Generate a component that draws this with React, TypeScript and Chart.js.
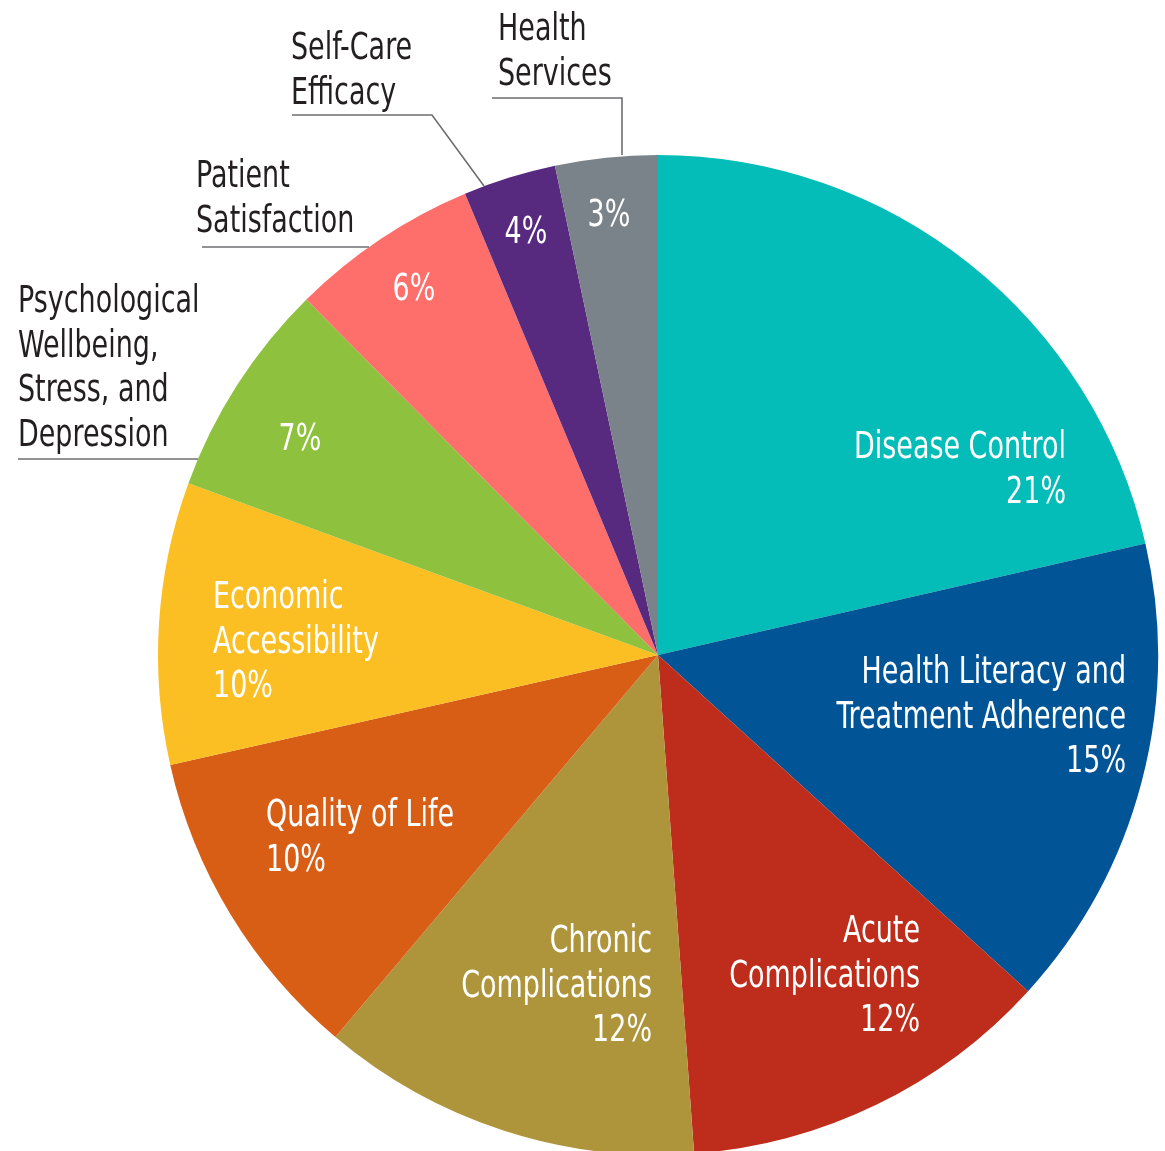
import React, { useEffect, useRef } from "react";
import { Chart, registerables } from "chart.js";

Chart.register(...registerables);

const categories = [
  "Disease Control",
  "Health Literacy and Treatment Adherence",
  "Acute Complications",
  "Chronic Complications",
  "Quality of Life",
  "Economic Accessibility",
  "Psychological Wellbeing, Stress, and Depression",
  "Patient Satisfaction",
  "Self-Care Efficacy",
  "Health Services",
];
// slice sizes as drawn in the picture (percent)
const sliceValues = [21.4, 15.3, 12.1, 12.3, 10.3, 9.1, 7.0, 6.1, 3.0, 3.3];
// printed percentages
const percentLabels = ["21%", "15%", "12%", "12%", "10%", "10%", "7%", "6%", "4%", "3%"];
const sliceColors = [
  "#05BDB8", "#015496", "#BE2D1B", "#AE953C", "#D95E15",
  "#FBBF24", "#8DC13E", "#FE6E6A", "#572A7F", "#798389",
];

// label layout: inside / outside text, anchor in units of radius from centre
type LabelSpec = {
  lines: string[];
  x: number;
  y: number;
  align: CanvasTextAlign;
  color: string;
  leader?: number[][];
};
const labelLayout: LabelSpec[] = [
  { lines: ["Disease Control", percentLabels[0]], x: 0.816, y: -0.394, align: "right", color: "#fff" },
  { lines: ["Health Literacy and", "Treatment Adherence", percentLabels[1]], x: 0.936, y: 0.056, align: "right", color: "#fff" },
  { lines: ["Acute", "Complications", percentLabels[2]], x: 0.524, y: 0.574, align: "right", color: "#fff" },
  { lines: ["Chronic", "Complications", percentLabels[3]], x: -0.012, y: 0.594, align: "right", color: "#fff" },
  { lines: ["Quality of Life", percentLabels[4]], x: -0.784, y: 0.342, align: "left", color: "#fff" },
  { lines: ["Economic", "Accessibility", percentLabels[5]], x: -0.89, y: -0.094, align: "left", color: "#fff" },
  { lines: [percentLabels[6]], x: -0.716, y: -0.41, align: "center", color: "#fff" },
  { lines: [percentLabels[7]], x: -0.488, y: -0.71, align: "center", color: "#fff" },
  { lines: [percentLabels[8]], x: -0.264, y: -0.824, align: "center", color: "#fff" },
  { lines: [percentLabels[9]], x: -0.098, y: -0.858, align: "center", color: "#fff" },
  {
    lines: ["Psychological", "Wellbeing,", "Stress, and", "Depression"], x: -1.28, y: -0.686, align: "left", color: "#231F20",
    leader: [[-1.28, -0.392], [-0.92, -0.392]],
  },
  {
    lines: ["Patient", "Satisfaction"], x: -0.924, y: -0.936, align: "left", color: "#231F20",
    leader: [[-0.912, -0.816], [-0.578, -0.816]],
  },
  {
    lines: ["Self-Care", "Efficacy"], x: -0.734, y: -1.192, align: "left", color: "#231F20",
    leader: [[-0.732, -1.08], [-0.452, -1.08], [-0.348, -0.938]],
  },
  {
    lines: ["Health", "Services"], x: -0.32, y: -1.23, align: "left", color: "#231F20",
    leader: [[-0.332, -1.114], [-0.072, -1.114], [-0.072, -1.0]],
  },
];

const FONT = '37px "Liberation Sans Narrow", "Arial Narrow", "DejaVu Sans Condensed", sans-serif';
const X_SCALE = 0.81;
const LINE_H = 44.5;

const labelPlugin = {
  id: "sliceLabels",
  afterDatasetsDraw(chart: any) {
    const meta = chart.getDatasetMeta(0);
    const arc = meta.data[0];
    if (!arc) return;
    const cx = arc.x;
    const cy = arc.y;
    const r = arc.outerRadius;
    const ctx = chart.ctx as CanvasRenderingContext2D;
    ctx.save();
    for (const spec of labelLayout) {
      if (spec.leader) {
        ctx.beginPath();
        ctx.strokeStyle = "#6D6E71";
        ctx.lineWidth = 1.6;
        spec.leader.forEach((p, i) => {
          const px = cx + p[0] * r;
          const py = cy + p[1] * r;
          if (i === 0) ctx.moveTo(px, py);
          else ctx.lineTo(px, py);
        });
        ctx.stroke();
      }
      spec.lines.forEach((line, i) => {
        const ax = cx + spec.x * r;
        const ay = cy + spec.y * r + i * LINE_H;
        ctx.save();
        ctx.translate(ax, ay);
        ctx.scale(X_SCALE, 1);
        ctx.font = FONT;
        ctx.fillStyle = spec.color;
        ctx.textAlign = spec.align;
        ctx.textBaseline = "alphabetic";
        ctx.fillText(line, 0, 0);
        ctx.restore();
      });
    }
    ctx.restore();
  },
};

export default function App() {
  const ref = useRef<HTMLCanvasElement | null>(null);
  useEffect(() => {
    if (!ref.current) return;
    const chart = new Chart(ref.current, {
      type: "pie",
      data: {
        labels: categories,
        datasets: [
          {
            data: sliceValues,
            backgroundColor: sliceColors,
            borderWidth: 0,
          },
        ],
      },
      options: {
        responsive: false,
        animation: false,
        devicePixelRatio: 1,
        layout: { padding: { left: 158, right: 7, top: 155, bottom: 5 } },
        plugins: {
          legend: { display: false },
          tooltip: { enabled: false },
          title: { display: false },
        },
      },
      plugins: [labelPlugin],
    });
    return () => chart.destroy();
  }, []);
  return (
    <div style={{ position: "absolute", left: 0, top: 0, width: 1165, height: 1151, overflow: "hidden", background: "#fff" }}>
      <canvas ref={ref} width={1165} height={1160} style={{ display: "block", width: 1165, height: 1160 }} />
    </div>
  );
}
